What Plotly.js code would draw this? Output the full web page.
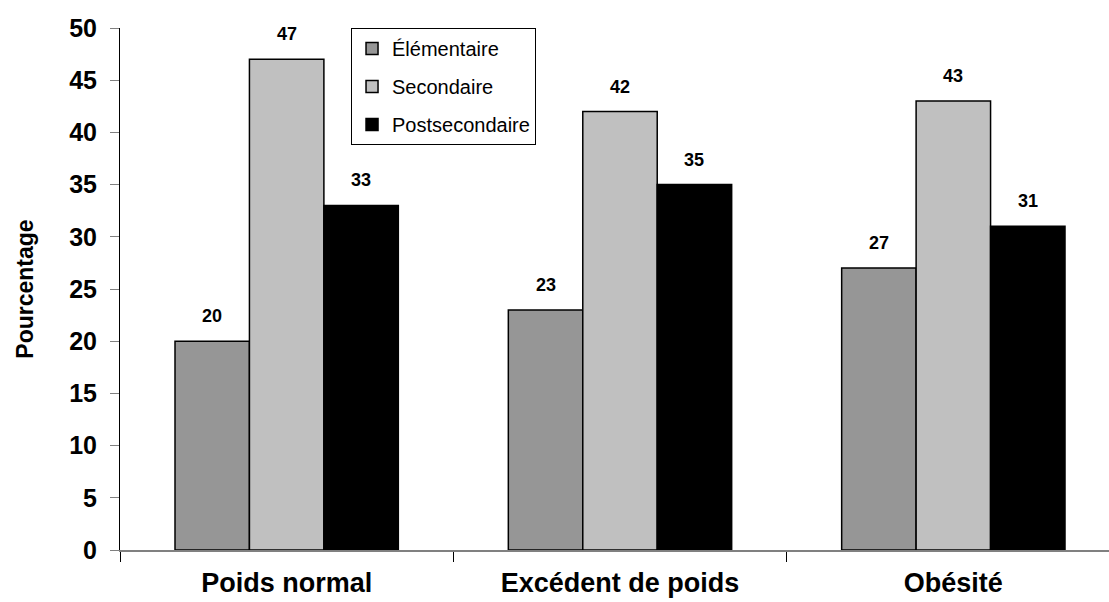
<!DOCTYPE html>
<html>
<head>
<meta charset="utf-8">
<script src="https://cdn.plot.ly/plotly-3.0.1.min.js"></script>
<style>html,body{margin:0;padding:0;background:#fff;}#chart{width:1109px;height:602px;}</style>
</head>
<body>
<div id="chart"></div>
<script>
// Data
const categories = ["Poids normal", "Excédent de poids", "Obésité"];
const seriesNames = ["Élémentaire", "Secondaire", "Postsecondaire"];
const elementaire = [20, 23, 27];
const secondaire = [47, 42, 43];
const postsecondaire = [33, 35, 31];
const yTickVals = [0, 5, 10, 15, 20, 25, 30, 35, 40, 45, 50];

const seriesValues = [elementaire, secondaire, postsecondaire];
const seriesColors = ["#969696", "#c0c0c0", "#000000"];
const FONT = "'Liberation Sans', Arial, Helvetica, sans-serif";
const bargap = 0.33;
const barW = (1 - bargap) / seriesValues.length;

const traces = seriesValues.map((vals, s) => ({
  type: "bar",
  name: seriesNames[s],
  x: categories,
  y: vals,
  legendgroup: "g" + s,
  marker: { color: seriesColors[s], line: { color: "#000000", width: 1.5 } },
  hoverinfo: "skip"
}));

const annotations = [];
seriesValues.forEach((vals, s) => {
  vals.forEach((v, i) => {
    annotations.push({
      xref: "x", yref: "y",
      x: i + (s - (seriesValues.length - 1) / 2) * barW,
      y: v,
      text: "<b>" + v + "</b>",
      showarrow: false,
      yanchor: "bottom",
      yshift: 13,
      font: { family: FONT, size: 18, color: "#000" }
    });
  });
});

const layout = {
  width: 1109,
  height: 602,
  margin: { l: 120, r: 0, t: 28, b: 52, pad: 0 },
  paper_bgcolor: "#ffffff",
  plot_bgcolor: "#ffffff",
  barmode: "group",
  bargap: bargap,
  bargroupgap: 0,
  showlegend: true,
  legend: {
    x: 0.2336, y: 1, xanchor: "left", yanchor: "top",
    bgcolor: "#ffffff", bordercolor: "#000000", borderwidth: 1,
    font: { family: FONT, size: 20, color: "#000" },
    tracegroupgap: 9,
    traceorder: "grouped",
    itemwidth: 30,
    entrywidth: 170
  },
  xaxis: {
    type: "category",
    range: [-0.5, 2.467],
    showline: true, linecolor: "#808080", linewidth: 1.5,
    ticks: "outside", tickson: "boundaries", ticklen: 10, tickcolor: "#000000", tickwidth: 1,
    showgrid: false, zeroline: false,
    tickfont: { family: FONT, size: 27, color: "#000", weight: "bold" },
    ticklabelstandoff: 8,
    fixedrange: true
  },
  yaxis: {
    range: [0, 50],
    tickvals: yTickVals,
    ticktext: yTickVals.map(String),
    showline: true, linecolor: "#000000", linewidth: 1,
    ticks: "outside", ticklen: 9, tickcolor: "#808080", tickwidth: 1,
    showgrid: false, zeroline: false,
    tickfont: { family: FONT, size: 25, color: "#000", weight: "bold" },
    ticklabelstandoff: 8,
    title: { text: "Pourcentage", font: { family: FONT, size: 23, color: "#000", weight: "bold" }, standoff: 29 },
    automargin: false,
    fixedrange: true
  },
  annotations: annotations
};

Plotly.newPlot("chart", traces, layout, { staticPlot: true, displayModeBar: false });
</script>
</body>
</html>
